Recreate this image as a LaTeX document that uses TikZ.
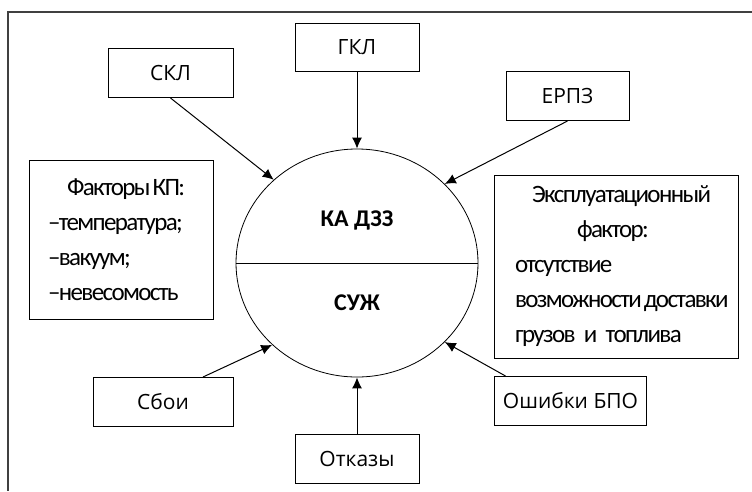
\documentclass[tikz,border=0pt]{standalone}
\usepackage{fontspec}
\setmainfont{Carlito}
\newfontfamily\labelfont{Open Sans}
\newfontfamily\narrowfont[LetterSpace=-6.5]{Carlito}
\newcommand\sidefont{\narrowfont\fontsize{25}{35}\selectfont}
\newcommand\tightsp{\mbox{}\kern2pt\relax}
\usetikzlibrary{shapes.geometric}
\usetikzlibrary{arrows.meta}

\tikzset{
  box/.style={draw,line width=1pt,minimum height=49pt,inner sep=2pt,
    font=\labelfont\fontsize{21}{25}\selectfont},
  sidebox/.style={draw,line width=1pt,align=left,inner ysep=0pt,font=\sidefont},
  link/.style={->,line width=1pt},
}

\begin{document}
\begin{tikzpicture}[>={Latex[length=11pt,width=10pt]},x=1pt,y=-1pt]
  \useasboundingbox (0,0) rectangle (752,491);
  \draw[line width=1.5pt,black!75] (752,12) -- (8,12) -- (8,491);
  \node[draw,ellipse,line width=0.8pt,minimum width=242,minimum height=228,inner sep=0pt] (sat) at (357,263) {};
  \draw[line width=0.8pt] (sat.west) -- (sat.east);
  \node[font=\fontsize{24}{28}\selectfont\bfseries] (ka) at ([yshift=43pt]sat.center) {КА ДЗЗ};
  \node[font=\fontsize{24}{28}\selectfont\bfseries] (suzh) at ([yshift=-40pt]sat.center) {СУЖ};
  \node[box,minimum width=125] (skl) at (170.5,73) {СКЛ};
  \node[box,minimum width=124,minimum height=48] (gkl) at (357,47) {ГКЛ};
  \node[box,minimum width=123] (erpz) at (567.5,96) {ЕРПЗ};
  \node[box,minimum width=140] (sboi) at (163,402) {Сбои};
  \node[box,minimum width=124] (otkazy) at (357,459) {Отказы};
  \node[box,minimum width=152] (bpo) at (570.5,401) {Ошибки БПО};
  \node[sidebox,inner xsep=19pt,text width=146pt,minimum height=159] (kp) at (121,239.5)
    {\hspace*{19pt}Факторы\tightsp КП:\\–температура;\\–вакуум;\\–невесомость};
  \node[sidebox,inner xsep=21pt,text width=202pt,minimum height=183] (expl) at (616,266.5)
    {\hspace*{17pt}Эксплуатационный\\\hspace*{62pt}фактор:\\отсутствие\\возможности\tightsp доставки\\грузов и топлива};
  \draw[link] (skl.south) -- (sat.135);
  \draw[link] (gkl.south) -- (sat.north);
  \draw[link] (erpz.south) -- (sat.42);
  \draw[link] ([xshift=40pt]sboi.north) -- (sat.224);
  \draw[link] (otkazy.north) -- (sat.south);
  \draw[link] ([xshift=-65pt]bpo.north) -- (sat.318);
\end{tikzpicture}
\end{document}
